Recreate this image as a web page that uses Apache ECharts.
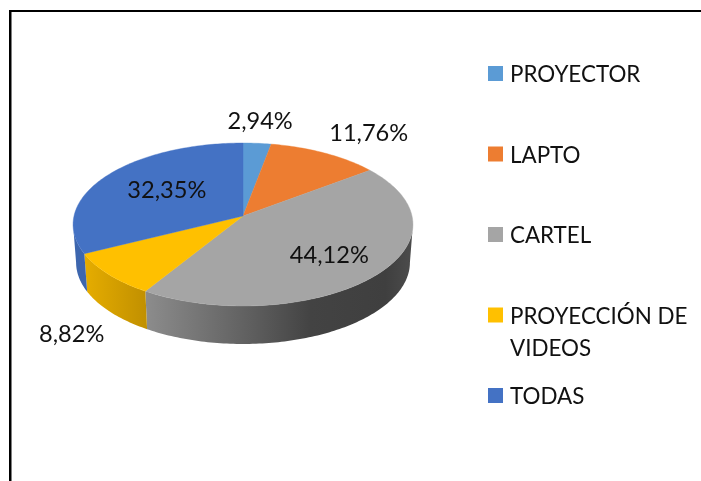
<!DOCTYPE html>
<html><head><meta charset="utf-8">
<style>html,body{margin:0;padding:0;background:#fff}#c{width:701px;height:481px}</style>
<script src="https://cdn.jsdelivr.net/npm/echarts@6/dist/echarts.min.js"></script>
</head><body><div id="c"></div>
<script>
const categories = ['PROYECTOR', 'LAPTO', 'CARTEL', 'PROYECCIÓN DE VIDEOS', 'TODAS'];
const values = [2.94, 11.76, 44.12, 8.82, 32.35];
const colors = ['#5B9BD5', '#ED7D31', '#A5A5A5', '#FFC000', '#4472C4'];
const labelOffsets = [[3, -22], [44, -20], [-48, -19], [-37, 60], [60, 15]];
const legendCenters = [73.5, 154, 234.5, 315, 395.5];
const FONT = 'Lato';

const chart = echarts.init(document.getElementById('c'), null, {renderer: 'canvas'});
const total = values.reduce((a, b) => a + b, 0);
const CX = 243, CY = 216, A = 169, A2 = 166, B = 80.6, K = 0.1043, DEPTH = 38;
const rad = d => d * Math.PI / 180;
function rim(deg, a) {
  const u = Math.sin(rad(deg)), v = Math.cos(rad(deg)), d = 1 + K * v;
  return [CX + a * u / d, CY - B * v / d];
}
function bounds(i) {
  let s = 0;
  for (let j = 0; j < i; j++) s += values[j];
  return [s / total * 360, (s + values[i]) / total * 360];
}
const sideFill = [
  null, null,
  new echarts.graphic.LinearGradient(146, 0, 412, 0, [
    {offset: 0, color: '#8c8c8c'}, {offset: 0.4, color: '#5e5e5e'},
    {offset: 0.62, color: '#434343'}, {offset: 0.9, color: '#3f3f3f'}, {offset: 1, color: '#4c4c4c'}], true),
  new echarts.graphic.LinearGradient(84, 0, 146, 0, [
    {offset: 0, color: '#e6ad00'}, {offset: 1, color: '#c19000'}], true),
  '#3d66ae'
];
const VIS0 = 96, VIS1 = 264;
function renderItem(i) {
  return function () {
    const [a0, a1] = bounds(i);
    const children = [];
    const s0 = Math.max(a0, VIS0), s1 = Math.min(a1, VIS1);
    if (s1 > s0 && sideFill[i]) {
      const top = [], bot = [];
      for (let d = s0; d < s1; d += 1) { top.push(rim(d, A)); const p = rim(d, A2); bot.push([p[0], p[1] + DEPTH]); }
      top.push(rim(s1, A)); const pe = rim(s1, A2); bot.push([pe[0], pe[1] + DEPTH]);
      children.push({type: 'polygon', shape: {points: top.concat(bot.reverse())},
        style: {fill: sideFill[i]}, silent: true});
    }
    const pts = [[CX, CY]];
    for (let d = a0; d < a1; d += 1) pts.push(rim(d, A));
    pts.push(rim(a1, A));
    children.push({type: 'polygon', shape: {points: pts},
      style: {fill: colors[i], stroke: colors[i], lineWidth: 0.4}, silent: true, z2: 5});
    const mid = (a0 + a1) / 2, m = rim(mid, A);
    children.push({type: 'text', silent: true, z2: 20, style: {
      x: m[0] + labelOffsets[i][0], y: m[1] + labelOffsets[i][1],
      text: values[i].toFixed(2).replace('.', ',') + '%',
      font: '23.6px ' + FONT, fill: '#111', align: 'center', verticalAlign: 'middle'}});
    return {type: 'group', children};
  };
}
const tStyle = {fontFamily: FONT, fontSize: 22.4, color: '#111', lineHeight: 32};
chart.setOption({
  animation: false,
  backgroundColor: '#fff',
  legend: categories.map((c, i) => {
    const multi = c === 'PROYECCIÓN DE VIDEOS';
    return {
      data: [c], orient: 'vertical', left: 488, padding: 0, selectedMode: false,
      top: legendCenters[i] - (multi ? 49.5 : 17.5),
      icon: 'rect', itemWidth: 15, itemHeight: 15, itemGap: 0,
      formatter: n => n === 'PROYECCIÓN DE VIDEOS'
        ? '{s| }\n{t| }\n{t|PROYECCIÓN DE}\n{t|VIDEOS}'
        : '{s| }\n{t|' + n + '}',
      textStyle: {...tStyle, padding: [0, 0, 0, 2], rich: {
        s: {fontSize: 2, lineHeight: 3},
        t: tStyle
      }}
    };
  }),
  graphic: [
    {type: 'rect', shape: {x: 9, y: 10, width: 692, height: 2}, style: {fill: '#000'}, silent: true},
    {type: 'rect', shape: {x: 9, y: 10, width: 2.5, height: 471}, style: {fill: '#000'}, silent: true}
  ],
  series: categories.map((c, i) => ({
    type: 'custom', name: c, coordinateSystem: 'none',
    itemStyle: {color: colors[i]},
    data: [values[i]], renderItem: renderItem(i), silent: true
  }))
});
</script></body></html>
